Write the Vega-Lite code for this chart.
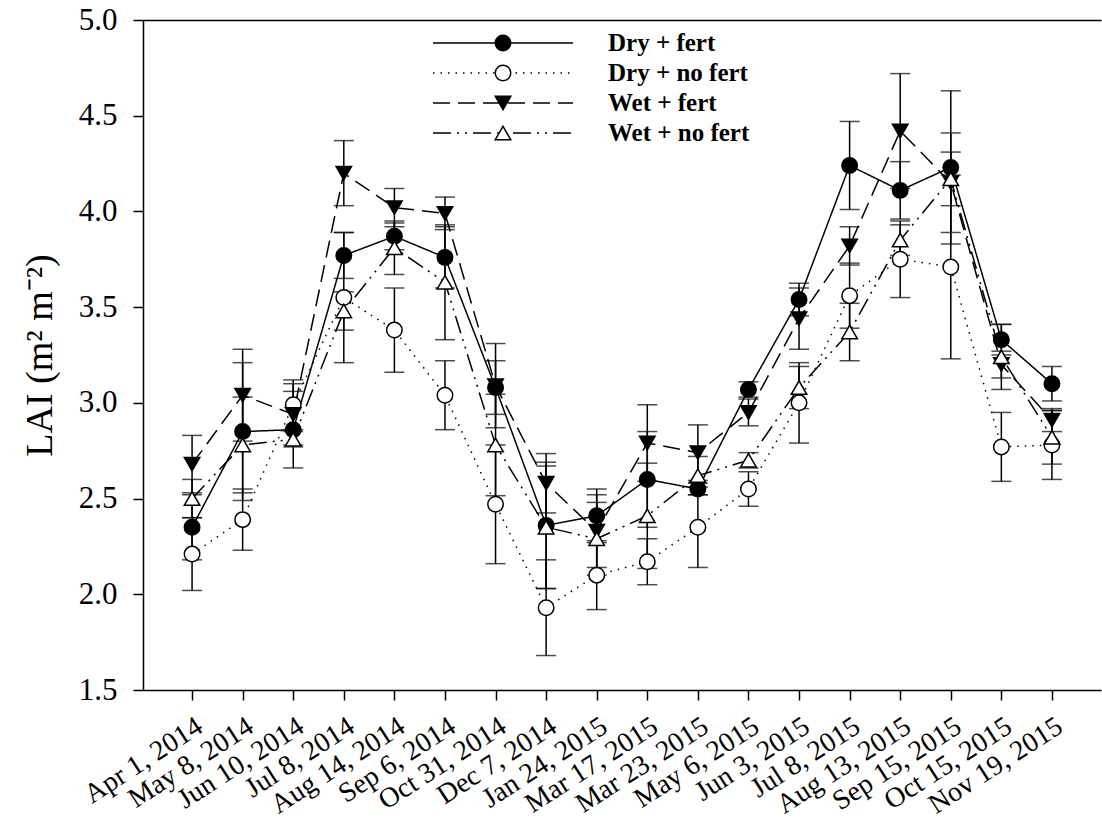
{
  "$schema": "https://vega.github.io/schema/vega-lite/v6.json",
  "width": 958,
  "height": 670,
  "autosize": "none",
  "padding": {"left": 143, "top": 20, "right": 1, "bottom": 135},
  "background": "white",
  "config": {
    "font": "Liberation Serif",
    "view": {"stroke": null},
    "axis": {
      "grid": false,
      "domainColor": "black",
      "domainWidth": 1.5,
      "tickColor": "black",
      "tickWidth": 1.5,
      "tickSize": 10,
      "labelColor": "black",
      "labelFont": "Liberation Serif",
      "titleFont": "Liberation Serif",
      "titleColor": "black",
      "titleFontWeight": "normal"
    }
  },
  "data": {
    "values": [
      {"date": "Apr 1, 2014", "series": "Dry + fert", "lai": 2.35, "se": 0.17},
      {"date": "May 8, 2014", "series": "Dry + fert", "lai": 2.85, "se": 0.36},
      {"date": "Jun 10, 2014", "series": "Dry + fert", "lai": 2.86, "se": 0.20},
      {"date": "Jul 8, 2014", "series": "Dry + fert", "lai": 3.77, "se": 0.12},
      {"date": "Aug 14, 2014", "series": "Dry + fert", "lai": 3.87, "se": 0.07},
      {"date": "Sep 6, 2014", "series": "Dry + fert", "lai": 3.76, "se": 0.16},
      {"date": "Oct 31, 2014", "series": "Dry + fert", "lai": 3.08, "se": 0.14},
      {"date": "Dec 7, 2014", "series": "Dry + fert", "lai": 2.36, "se": 0.33},
      {"date": "Jan 24, 2015", "series": "Dry + fert", "lai": 2.41, "se": 0.14},
      {"date": "Mar 17, 2015", "series": "Dry + fert", "lai": 2.60, "se": 0.25},
      {"date": "Mar 23, 2015", "series": "Dry + fert", "lai": 2.55, "se": 0.03},
      {"date": "May 6, 2015", "series": "Dry + fert", "lai": 3.07, "se": 0.04},
      {"date": "Jun 3, 2015", "series": "Dry + fert", "lai": 3.54, "se": 0.085},
      {"date": "Jul 8, 2015", "series": "Dry + fert", "lai": 4.24, "se": 0.23},
      {"date": "Aug 13, 2015", "series": "Dry + fert", "lai": 4.11, "se": 0.15},
      {"date": "Sep 15, 2015", "series": "Dry + fert", "lai": 4.23, "se": 0.40},
      {"date": "Oct 15, 2015", "series": "Dry + fert", "lai": 3.33, "se": 0.08},
      {"date": "Nov 19, 2015", "series": "Dry + fert", "lai": 3.10, "se": 0.09},

      {"date": "Apr 1, 2014", "series": "Dry + no fert", "lai": 2.21, "se": 0.19},
      {"date": "May 8, 2014", "series": "Dry + no fert", "lai": 2.39, "se": 0.16},
      {"date": "Jun 10, 2014", "series": "Dry + no fert", "lai": 2.99, "se": 0.13},
      {"date": "Jul 8, 2014", "series": "Dry + no fert", "lai": 3.55, "se": 0.34},
      {"date": "Aug 14, 2014", "series": "Dry + no fert", "lai": 3.38, "se": 0.22},
      {"date": "Sep 6, 2014", "series": "Dry + no fert", "lai": 3.04, "se": 0.18},
      {"date": "Oct 31, 2014", "series": "Dry + no fert", "lai": 2.47, "se": 0.31},
      {"date": "Dec 7, 2014", "series": "Dry + no fert", "lai": 1.93, "se": 0.25},
      {"date": "Jan 24, 2015", "series": "Dry + no fert", "lai": 2.10, "se": 0.18},
      {"date": "Mar 17, 2015", "series": "Dry + no fert", "lai": 2.17, "se": 0.12},
      {"date": "Mar 23, 2015", "series": "Dry + no fert", "lai": 2.35, "se": 0.21},
      {"date": "May 6, 2015", "series": "Dry + no fert", "lai": 2.55, "se": 0.09},
      {"date": "Jun 3, 2015", "series": "Dry + no fert", "lai": 3.00, "se": 0.21},
      {"date": "Jul 8, 2015", "series": "Dry + no fert", "lai": 3.56, "se": 0.17},
      {"date": "Aug 13, 2015", "series": "Dry + no fert", "lai": 3.75, "se": 0.20},
      {"date": "Sep 15, 2015", "series": "Dry + no fert", "lai": 3.71, "se": 0.48},
      {"date": "Oct 15, 2015", "series": "Dry + no fert", "lai": 2.77, "se": 0.18},
      {"date": "Nov 19, 2015", "series": "Dry + no fert", "lai": 2.78, "se": 0.18},

      {"date": "Apr 1, 2014", "series": "Wet + fert", "lai": 2.68, "se": 0.15},
      {"date": "May 8, 2014", "series": "Wet + fert", "lai": 3.04, "se": 0.24},
      {"date": "Jun 10, 2014", "series": "Wet + fert", "lai": 2.94, "se": 0.16},
      {"date": "Jul 8, 2014", "series": "Wet + fert", "lai": 4.20, "se": 0.17},
      {"date": "Aug 14, 2014", "series": "Wet + fert", "lai": 4.02, "se": 0.10},
      {"date": "Sep 6, 2014", "series": "Wet + fert", "lai": 3.99, "se": 0.085},
      {"date": "Oct 31, 2014", "series": "Wet + fert", "lai": 3.09, "se": 0.22},
      {"date": "Dec 7, 2014", "series": "Wet + fert", "lai": 2.58, "se": 0.155},
      {"date": "Jan 24, 2015", "series": "Wet + fert", "lai": 2.33, "se": 0.19},
      {"date": "Mar 17, 2015", "series": "Wet + fert", "lai": 2.79, "se": 0.20},
      {"date": "Mar 23, 2015", "series": "Wet + fert", "lai": 2.74, "se": 0.145},
      {"date": "May 6, 2015", "series": "Wet + fert", "lai": 2.95, "se": 0.07},
      {"date": "Jun 3, 2015", "series": "Wet + fert", "lai": 3.44, "se": 0.16},
      {"date": "Jul 8, 2015", "series": "Wet + fert", "lai": 3.82, "se": 0.10},
      {"date": "Aug 13, 2015", "series": "Wet + fert", "lai": 4.42, "se": 0.30},
      {"date": "Sep 15, 2015", "series": "Wet + fert", "lai": 4.15, "se": 0.26},
      {"date": "Oct 15, 2015", "series": "Wet + fert", "lai": 3.20, "se": 0.07},
      {"date": "Nov 19, 2015", "series": "Wet + fert", "lai": 2.91, "se": 0.06},

      {"date": "Apr 1, 2014", "series": "Wet + no fert", "lai": 2.50, "se": 0.10},
      {"date": "May 8, 2014", "series": "Wet + no fert", "lai": 2.78, "se": 0.25},
      {"date": "Jun 10, 2014", "series": "Wet + no fert", "lai": 2.81, "se": 0.04},
      {"date": "Jul 8, 2014", "series": "Wet + no fert", "lai": 3.48, "se": 0.10},
      {"date": "Aug 14, 2014", "series": "Wet + no fert", "lai": 3.81, "se": 0.14},
      {"date": "Sep 6, 2014", "series": "Wet + no fert", "lai": 3.63, "se": 0.30},
      {"date": "Oct 31, 2014", "series": "Wet + no fert", "lai": 2.78, "se": 0.265},
      {"date": "Dec 7, 2014", "series": "Wet + no fert", "lai": 2.35, "se": 0.32},
      {"date": "Jan 24, 2015", "series": "Wet + no fert", "lai": 2.29, "se": 0.19},
      {"date": "Mar 17, 2015", "series": "Wet + no fert", "lai": 2.41, "se": 0.275},
      {"date": "Mar 23, 2015", "series": "Wet + no fert", "lai": 2.62, "se": 0.10},
      {"date": "May 6, 2015", "series": "Wet + no fert", "lai": 2.70, "se": 0.04},
      {"date": "Jun 3, 2015", "series": "Wet + no fert", "lai": 3.08, "se": 0.11},
      {"date": "Jul 8, 2015", "series": "Wet + no fert", "lai": 3.37, "se": 0.15},
      {"date": "Aug 13, 2015", "series": "Wet + no fert", "lai": 3.85, "se": 0.08},
      {"date": "Sep 15, 2015", "series": "Wet + no fert", "lai": 4.17, "se": 0.14},
      {"date": "Oct 15, 2015", "series": "Wet + no fert", "lai": 3.24, "se": 0.17},
      {"date": "Nov 19, 2015", "series": "Wet + no fert", "lai": 2.82, "se": 0.14}
    ]
  },
  "resolve": {"axis": {"x": "independent"}},
  "layer": [
    {
      "mark": {"type": "errorbar", "ticks": {"size": 20, "thickness": 1.5, "color": "black"}, "thickness": 1.5, "size": 20, "color": "black"},
      "encoding": {
        "x": {"field": "date", "type": "ordinal", "sort": null, "axis": null,
              "scale": {"type": "point", "padding": 0.97, "domain": ["Apr 1, 2014", "May 8, 2014", "Jun 10, 2014", "Jul 8, 2014", "Aug 14, 2014", "Sep 6, 2014", "Oct 31, 2014", "Dec 7, 2014", "Jan 24, 2015", "Mar 17, 2015", "Mar 23, 2015", "May 6, 2015", "Jun 3, 2015", "Jul 8, 2015", "Aug 13, 2015", "Sep 15, 2015", "Oct 15, 2015", "Nov 19, 2015"]}},
        "y": {"field": "lai", "type": "quantitative", "scale": {"domain": [1.5, 5.0], "nice": false, "zero": false},
              "axis": {"orient": "left", "title": "LAI (m² m⁻²)", "titleFontSize": 38, "titlePadding": 19, "values": [1.5, 2.0, 2.5, 3.0, 3.5, 4.0, 4.5, 5.0], "format": ".1f", "labelFontSize": 31, "labelPadding": 16}},
        "yError": {"field": "se"},
        "detail": {"field": "series"}
      }
    },
    {
      "mark": {"type": "line", "color": "black", "strokeWidth": 1.5},
      "encoding": {
        "x": {"field": "date", "type": "ordinal", "sort": null,
              "scale": {"type": "point", "padding": 0.97, "domain": ["Apr 1, 2014", "May 8, 2014", "Jun 10, 2014", "Jul 8, 2014", "Aug 14, 2014", "Sep 6, 2014", "Oct 31, 2014", "Dec 7, 2014", "Jan 24, 2015", "Mar 17, 2015", "Mar 23, 2015", "May 6, 2015", "Jun 3, 2015", "Jul 8, 2015", "Aug 13, 2015", "Sep 15, 2015", "Oct 15, 2015", "Nov 19, 2015"]},
              "axis": {"orient": "bottom", "title": null, "labelAngle": -33, "labelAlign": "right", "labelBaseline": "top", "labelFontSize": 28, "labelPadding": 12, "labelLimit": 300, "labelOverlap": false, "labelBound": false}},
        "y": {"field": "lai", "type": "quantitative", "scale": {"domain": [1.5, 5.0], "nice": false, "zero": false},
              "axis": {"orient": "left", "title": "LAI (m² m⁻²)", "titleFontSize": 38, "titlePadding": 19, "values": [1.5, 2.0, 2.5, 3.0, 3.5, 4.0, 4.5, 5.0], "format": ".1f", "labelFontSize": 31, "labelPadding": 16}},
        "strokeDash": {"field": "series", "type": "nominal",
          "scale": {"domain": ["Dry + fert", "Dry + no fert", "Wet + fert", "Wet + no fert"], "range": [[1, 0], [1.5, 6], [17, 8], [18, 6, 2, 6, 2, 6]]},
          "legend": {"orient": "none", "legendX": 289, "legendY": 8, "title": null, "symbolType": "stroke", "symbolSize": 19600, "symbolStrokeWidth": 1.5, "symbolStrokeColor": "black", "clipHeight": 30, "rowPadding": 0, "padding": 0, "labelOffset": 34, "labelFont": "Liberation Serif", "labelFontSize": 25, "labelFontWeight": "bold", "labelColor": "black", "labelLimit": 300, "zindex": 0}}
      }
    },
    {
      "mark": {"type": "point", "stroke": "black", "strokeWidth": 1.5, "opacity": 1},
      "encoding": {
        "x": {"field": "date", "type": "ordinal", "sort": null,
              "scale": {"type": "point", "padding": 0.97, "domain": ["Apr 1, 2014", "May 8, 2014", "Jun 10, 2014", "Jul 8, 2014", "Aug 14, 2014", "Sep 6, 2014", "Oct 31, 2014", "Dec 7, 2014", "Jan 24, 2015", "Mar 17, 2015", "Mar 23, 2015", "May 6, 2015", "Jun 3, 2015", "Jul 8, 2015", "Aug 13, 2015", "Sep 15, 2015", "Oct 15, 2015", "Nov 19, 2015"]},
              "axis": {"orient": "top", "labels": false, "ticks": false, "title": null, "domain": true}},
        "y": {"field": "lai", "type": "quantitative", "scale": {"domain": [1.5, 5.0], "nice": false, "zero": false},
              "axis": {"orient": "left", "title": "LAI (m² m⁻²)", "titleFontSize": 38, "titlePadding": 19, "values": [1.5, 2.0, 2.5, 3.0, 3.5, 4.0, 4.5, 5.0], "format": ".1f", "labelFontSize": 31, "labelPadding": 16}},
        "shape": {"field": "series", "type": "nominal",
          "scale": {"range": ["circle", "circle", "triangle-down", "triangle-up"]},
          "legend": {"orient": "none", "legendX": 347.5, "legendY": 8, "title": null, "clipHeight": 30, "rowPadding": 0, "padding": 0, "labelExpr": "''", "labelFontSize": 25, "symbolStrokeColor": "black", "symbolStrokeWidth": 1.5, "zindex": 1}},
        "fill": {"field": "series", "type": "nominal", "scale": {"range": ["black", "white", "black", "white"]}},
        "size": {"field": "series", "type": "nominal", "scale": {"range": [240, 240, 324, 324]}}
      }
    }
  ]
}
